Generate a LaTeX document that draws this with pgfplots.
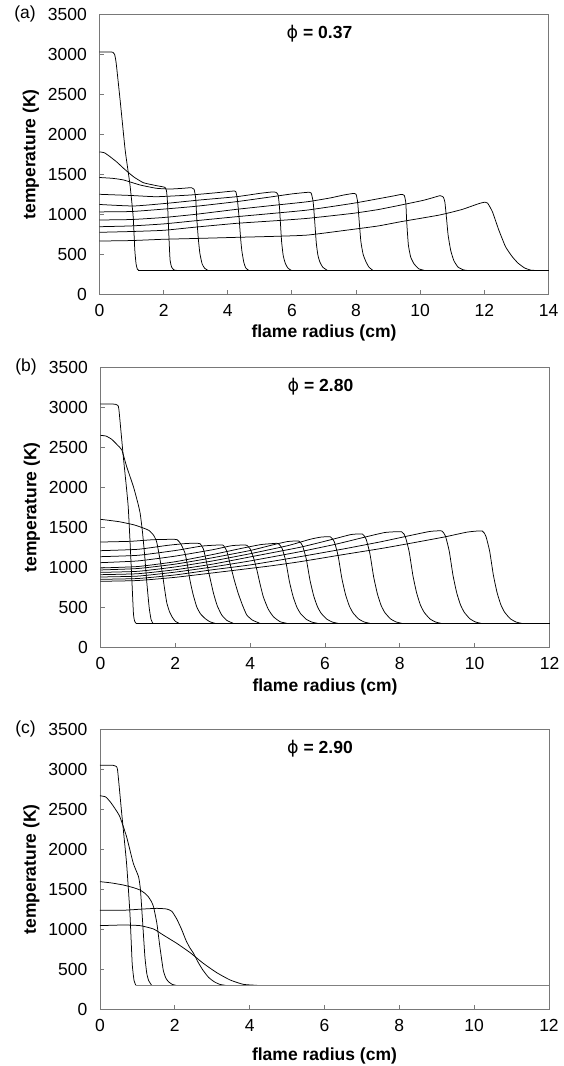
\documentclass[border=0pt]{standalone}
\usepackage{fontspec}
\setmainfont{Liberation Sans}
\newfontfamily\symfont{DejaVu Sans}
\usepackage{pgfplots}
\pgfplotsset{compat=1.18}

\definecolor{axgray}{RGB}{120,120,120}
\newcommand{\fs}{\fontsize{17.5}{21}\selectfont}
\newcommand{\phisym}{{\symfont\mdseries ϕ}}

\pgfplotsset{panel/.style={
    anchor=south west, scale only axis, width=449pt, height=280pt,
    ymin=0, ymax=3500, ytick={0,500,...,3500},
    xmin=0, xtick distance=2,
    tick align=inside, tick pos=left, major tick length=4.5pt,
    axis line style={draw=axgray, line width=0.9pt},
    tick style={draw=axgray, line width=0.9pt},
    tick label style={font=\fs},
    /pgf/number format/assume math mode=true,
    /pgf/number format/1000 sep={},
    yticklabel style={anchor=east, inner sep=0pt, xshift=-12.5pt},
    xticklabel style={anchor=center, inner sep=0pt, yshift=-16.5pt},
    xlabel={flame radius (cm)}, ylabel={temperature (K)},
    label style={font=\fs\bfseries},
    ylabel style={at={(axis description cs:-0.153,0.5)}, anchor=center},
    clip=false,
    cycle list={{black, solid}},
    no markers,
    every axis plot/.append style={line width=0.75pt, smooth, tension=0.3},
}}

\begin{document}
\begin{tikzpicture}
\useasboundingbox (0,0) rectangle (564pt,-1066pt);

% ---------- (a) phi = 0.37
\begin{axis}[panel, at={(99.5pt,-294.3pt)}, xmax=14,
    xlabel style={at={(axis description cs:0.5,-0.139)}, anchor=center}]
\addplot coordinates {(0,3030)(0.3,3030)(0.42,3025)(0.47,3000)(0.52,2890)(0.65,2400)(0.8,1804)(0.95,1370)(1.05,970)(1.1,560)(1.14,380)(1.18,315)(1.22,300)};
\addplot coordinates {(0,1780)(0.15,1770)(0.33,1720)(0.55,1650)(0.75,1575)(1.06,1470)(1.37,1395)(1.78,1358)(2.04,1337)(2.09,1290)(2.12,1150)(2.16,762)(2.2,429)(2.25,340)(2.32,305)(2.4,300)};
\addplot coordinates {(0,1460)(0.4,1450)(0.75,1429)(1.27,1366)(1.78,1325)(2.2,1316)(2.6,1325)(2.87,1333)(2.95,1312)(3.0,1200)(3.03,970)(3.08,700)(3.13,512)(3.2,380)(3.28,325)(3.38,300)};
\addplot coordinates {(0,1250)(1,1235)(1.78,1220)(2.82,1241)(3.6,1268)(4.15,1290)(4.25,1283)(4.3,1180)(4.35,970)(4.4,700)(4.44,540)(4.5,400)(4.56,330)(4.65,300)};
\addplot coordinates {(0,1123)(1.06,1104)(2.09,1137)(3.13,1179)(4.27,1220)(5.0,1262)(5.35,1278)(5.5,1276)(5.57,1240)(5.61,1100)(5.64,900)(5.68,650)(5.73,480)(5.8,380)(5.88,325)(5.98,300)};
\addplot coordinates {(0,1030)(1,1035)(2,1065)(3,1100)(4.27,1158)(5.3,1215)(6.0,1255)(6.5,1275)(6.6,1265)(6.66,1160)(6.7,970)(6.76,640)(6.81,490)(6.87,405)(6.96,340)(7.1,300)};
\addplot coordinates {(0,929)(1,935)(2,960)(3,1000)(4.27,1062)(5.5,1115)(6.5,1158)(7.2,1205)(7.6,1240)(7.9,1260)(8.0,1250)(8.05,1150)(8.09,950)(8.15,660)(8.22,500)(8.31,405)(8.4,340)(8.52,300)};
\addplot coordinates {(0,845)(1,855)(2,880)(3,920)(4.27,970)(5.5,1015)(6.5,1054)(7.9,1137)(8.7,1195)(9.2,1232)(9.4,1248)(9.5,1238)(9.55,1150)(9.58,900)(9.63,620)(9.7,470)(9.8,385)(9.95,320)(10.12,300)};
\addplot coordinates {(0,775)(1,785)(2,800)(3,840)(4.27,887)(5.5,920)(6.5,950)(7.9,1012)(8.7,1060)(9.4,1116)(10.1,1175)(10.5,1220)(10.62,1233)(10.72,1215)(10.77,1150)(10.82,950)(10.87,740)(10.95,550)(11.05,420)(11.18,340)(11.35,305)(11.45,300)};
\addplot coordinates {(0,666)(1,672)(2,688)(3,698)(4.27,712)(5.5,725)(6.5,741)(7.9,812)(8.7,855)(9.4,908)(10.6,991)(11.3,1060)(11.8,1130)(11.99,1150)(12.1,1140)(12.25,1033)(12.45,804)(12.66,595)(12.87,470)(13.05,390)(13.25,330)(13.45,302)(13.55,300)};
\addplot coordinates {(1.2,300)(14,300)};
\node[font=\fs] at (axis description cs:-0.166,1) {(a)};
\node[font=\fs\bfseries] at (axis description cs:0.49,0.93) {\phisym{} = 0.37};
\end{axis}

% ---------- (b) phi = 2.80
\begin{axis}[panel, at={(100.5pt,-647.3pt)}, xmax=12,
    xlabel style={at={(axis description cs:0.5,-0.141)}, anchor=center}]
\addplot coordinates {(0,3040)(0.35,3040)(0.44,3030)(0.49,2980)(0.61,2380)(0.74,1760)(0.83,925)(0.88,425)(0.91,330)(0.95,300)};
\addplot coordinates {(0,2650)(0.15,2640)(0.3,2600)(0.45,2530)(0.57,2466)(0.7,2258)(0.88,2008)(1.0,1800)(1.06,1675)(1.12,1450)(1.18,1150)(1.24,800)(1.3,500)(1.35,350)(1.4,300)};
\addplot coordinates {(0,1600)(0.5,1570)(0.9,1530)(1.15,1490)(1.3,1460)(1.42,1400)(1.5,1320)(1.57,1150)(1.64,966)(1.71,740)(1.77,560)(1.84,450)(1.92,375)(2.0,325)(2.1,300)};
\addplot coordinates {(0,1316)(0.8,1325)(1.4,1345)(1.9,1350)(2.05,1345)(2.15,1290)(2.26,1175)(2.33,1010)(2.39,841)(2.47,670)(2.57,508)(2.67,420)(2.79,362)(2.92,320)(3.06,300)};
\addplot coordinates {(0,1208)(1,1225)(1.8,1275)(2.3,1298)(2.6,1300)(2.66,1295)(2.75,1230)(2.84,1050)(2.93,860)(3.02,675)(3.12,520)(3.24,404)(3.38,335)(3.55,300)};
\addplot coordinates {(0,1133)(1,1150)(2,1210)(2.7,1265)(3.2,1280)(3.28,1275)(3.37,1210)(3.46,1050)(3.57,850)(3.68,675)(3.8,520)(3.91,404)(4.06,340)(4.26,300)};
\addplot coordinates {(0,1058)(1,1080)(2,1140)(3,1220)(3.5,1270)(3.85,1280)(3.91,1275)(4.0,1230)(4.09,1120)(4.18,966)(4.26,800)(4.35,633)(4.48,480)(4.62,383)(4.8,320)(4.98,300)};
\addplot coordinates {(0,992)(1,1010)(2,1070)(3,1160)(3.8,1240)(4.3,1285)(4.7,1300)(4.75,1298)(4.85,1240)(4.95,1080)(5.05,820)(5.15,630)(5.25,500)(5.35,420)(5.5,350)(5.65,315)(5.8,300)};
\addplot coordinates {(0,967)(1,985)(2,1040)(3,1120)(4,1210)(4.6,1280)(5.0,1322)(5.3,1328)(5.4,1268)(5.5,1103)(5.6,836)(5.7,640)(5.8,506)(5.9,424)(6.05,352)(6.2,315)(6.35,300)};
\addplot coordinates {(0,937)(1,950)(2,1005)(3,1080)(4,1170)(5.0,1270)(5.6,1350)(5.9,1378)(6.15,1380)(6.25,1318)(6.35,1145)(6.45,863)(6.55,657)(6.65,517)(6.75,430)(6.9,354)(7.05,316)(7.2,300)};
\addplot coordinates {(0,908)(1,920)(2,970)(3,1040)(4,1130)(5.33,1250)(6.2,1350)(6.7,1410)(7.0,1415)(7.1,1350)(7.2,1171)(7.3,881)(7.4,669)(7.5,523)(7.6,434)(7.75,356)(7.9,317)(8.05,300)};
\addplot coordinates {(0,879)(1,890)(2,940)(3,1005)(4,1080)(5.33,1195)(6.3,1290)(7.0,1370)(7.6,1435)(8.05,1444)(8.15,1377)(8.25,1194)(8.35,896)(8.45,678)(8.55,529)(8.65,438)(8.8,357)(8.95,317)(9.1,300)};
\addplot coordinates {(0,850)(1,860)(2,905)(3,970)(4,1030)(5.33,1133)(6.5,1230)(7.5,1320)(8.3,1400)(8.8,1448)(9.12,1455)(9.22,1388)(9.32,1203)(9.42,902)(9.52,682)(9.62,532)(9.72,439)(9.87,358)(10.02,317)(10.17,300)};
\addplot coordinates {(0,825)(1,835)(2,875)(3,930)(4.5,1015)(5.33,1070)(6.5,1160)(7.5,1235)(8.28,1300)(9.2,1380)(9.8,1440)(10.2,1455)(10.3,1388)(10.4,1203)(10.5,902)(10.6,682)(10.7,532)(10.8,439)(10.95,358)(11.1,317)(11.25,300)};
\addplot coordinates {(0.95,300)(12,300)};
\node[font=\fs] at (axis description cs:-0.166,1) {(b)};
\node[font=\fs\bfseries] at (axis description cs:0.49,0.93) {\phisym{} = 2.80};
\end{axis}

% ---------- (c) phi = 2.90
\begin{axis}[panel, at={(100pt,-1009.3pt)}, xmax=12,
    xlabel style={at={(axis description cs:0.5,-0.167)}, anchor=center}]
\addplot coordinates {(0,3050)(0.35,3050)(0.42,3040)(0.47,2990)(0.58,2450)(0.71,1825)(0.8,1200)(0.86,575)(0.91,360)(0.96,300)};
\addplot coordinates {(0,2670)(0.15,2655)(0.27,2596)(0.4,2510)(0.53,2408)(0.71,2158)(0.89,1825)(1.03,1658)(1.08,1500)(1.13,1158)(1.2,658)(1.25,450)(1.3,360)(1.38,300)};
\addplot coordinates {(0,1596)(0.3,1580)(0.62,1554)(0.9,1520)(1.07,1491)(1.2,1450)(1.29,1408)(1.37,1350)(1.43,1283)(1.52,1075)(1.6,783)(1.69,491)(1.76,390)(1.83,345)(1.93,312)(2.03,300)};
\addplot coordinates {(0,1237)(0.62,1238)(1.16,1254)(1.52,1262)(1.78,1254)(1.92,1225)(2.05,1130)(2.18,1000)(2.3,860)(2.4,770)(2.5,700)(2.62,590)(2.75,490)(2.9,400)(3.05,345)(3.2,312)(3.35,300)};
\addplot coordinates {(0,1046)(0.62,1054)(1.07,1046)(1.43,1004)(1.69,929)(2.05,825)(2.41,708)(2.76,575)(3.12,458)(3.48,366)(3.83,312)(4.2,300)};
\addplot[gray] coordinates {(0.96,300)(12,300)};
\node[font=\fs] at (axis description cs:-0.166,1) {(c)};
\node[font=\fs\bfseries] at (axis description cs:0.49,0.93) {\phisym{} = 2.90};
\end{axis}
\end{tikzpicture}
\end{document}
